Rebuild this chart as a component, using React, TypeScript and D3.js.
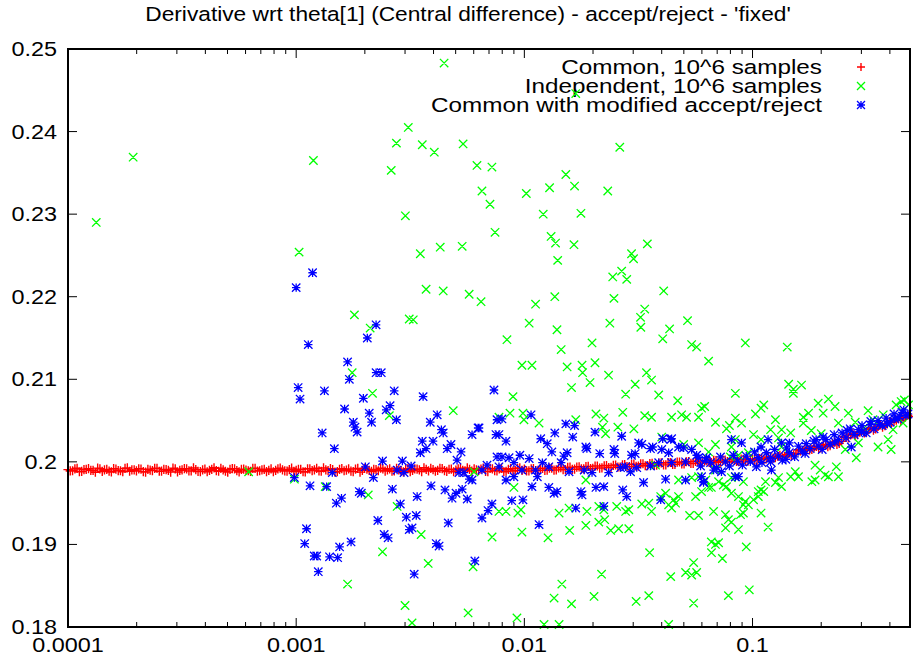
import React from "react";
import * as d3 from "d3";

const TITLE = "Derivative wrt theta[1] (Central difference) - accept/reject - 'fixed'";
const SERIES_NAMES = ["Common, 10^6 samples", "Independent, 10^6 samples", "Common with modified accept/reject"];
const SERIES_COLORS = ["#ff0000", "#00ff00", "#0000ff"];
const X_DOMAIN = [0.0001, 0.49];
const Y_DOMAIN = [0.18, 0.25];
const X_TICKS = [0.0001, 0.001, 0.01, 0.1];
const X_TICK_LABELS = ["0.0001", "0.001", "0.01", "0.1"];
const Y_TICKS = [0.18, 0.19, 0.2, 0.21, 0.22, 0.23, 0.24, 0.25];
const Y_TICK_LABELS = ["0.18", "0.19", "0.2", "0.21", "0.22", "0.23", "0.24", "0.25"];

// "Common" series, first half of samples
const redX = [
  1.000e-4, 1.047e-4, 1.096e-4, 1.148e-4, 1.202e-4, 1.259e-4, 1.318e-4, 1.380e-4, 1.445e-4, 1.514e-4,
  1.585e-4, 1.660e-4, 1.738e-4, 1.820e-4, 1.905e-4, 1.995e-4, 2.089e-4, 2.188e-4, 2.291e-4, 2.399e-4,
  2.512e-4, 2.630e-4, 2.754e-4, 2.884e-4, 3.020e-4, 3.162e-4, 3.311e-4, 3.467e-4, 3.631e-4, 3.802e-4,
  3.981e-4, 4.169e-4, 4.365e-4, 4.571e-4, 4.786e-4, 5.012e-4, 5.248e-4, 5.495e-4, 5.754e-4, 6.026e-4,
  6.310e-4, 6.607e-4, 6.918e-4, 7.244e-4, 7.586e-4, 7.943e-4, 8.318e-4, 8.710e-4, 9.120e-4, 9.550e-4,
  1.000e-3, 1.047e-3, 1.096e-3, 1.148e-3, 1.202e-3, 1.259e-3, 1.318e-3, 1.380e-3, 1.445e-3, 1.514e-3,
  1.585e-3, 1.660e-3, 1.738e-3, 1.820e-3, 1.905e-3, 1.995e-3, 2.089e-3, 2.188e-3, 2.291e-3, 2.399e-3,
  2.512e-3, 2.630e-3, 2.754e-3, 2.884e-3, 3.020e-3, 3.162e-3, 3.311e-3, 3.467e-3, 3.631e-3, 3.802e-3,
  3.981e-3, 4.169e-3, 4.365e-3, 4.571e-3, 4.786e-3, 5.012e-3, 5.248e-3, 5.495e-3, 5.754e-3, 6.026e-3,
  6.310e-3, 6.607e-3, 6.918e-3, 7.244e-3, 7.586e-3, 7.943e-3, 8.318e-3, 8.710e-3, 9.120e-3, 9.550e-3,
  1.000e-2, 1.047e-2, 1.096e-2, 1.148e-2, 1.202e-2, 1.259e-2, 1.318e-2, 1.380e-2, 1.445e-2, 1.514e-2,
  1.585e-2, 1.660e-2, 1.738e-2, 1.820e-2, 1.905e-2, 1.995e-2, 2.089e-2, 2.188e-2, 2.291e-2, 2.399e-2,
  2.512e-2, 2.630e-2, 2.754e-2, 2.884e-2, 3.020e-2, 3.162e-2, 3.311e-2, 3.467e-2, 3.631e-2, 3.802e-2,
  3.981e-2, 4.169e-2, 4.365e-2, 4.571e-2, 4.786e-2, 5.012e-2, 5.248e-2, 5.495e-2, 5.754e-2, 6.026e-2,
  6.310e-2, 6.607e-2, 6.918e-2, 7.244e-2, 7.586e-2, 7.943e-2, 8.318e-2, 8.710e-2, 9.120e-2, 9.550e-2,
  1.000e-1, 1.047e-1, 1.096e-1, 1.148e-1, 1.202e-1, 1.259e-1, 1.318e-1, 1.380e-1, 1.445e-1, 1.514e-1,
  1.585e-1, 1.660e-1, 1.738e-1, 1.820e-1, 1.905e-1, 1.995e-1, 2.089e-1, 2.188e-1, 2.291e-1, 2.399e-1,
  2.512e-1, 2.630e-1, 2.754e-1, 2.884e-1, 3.020e-1, 3.162e-1, 3.311e-1, 3.467e-1, 3.631e-1, 3.802e-1,
  3.981e-1, 4.169e-1, 4.365e-1, 4.571e-1, 4.786e-1,
];
const redY = [
  0.19906, 0.19892, 0.19922, 0.19884, 0.19910, 0.19898, 0.19874, 0.19916, 0.19902, 0.19888,
  0.19918, 0.19894, 0.19880, 0.19926, 0.19904, 0.19890, 0.19912, 0.19876, 0.19900, 0.19920,
  0.19886, 0.19908, 0.19896, 0.19924, 0.19878, 0.19902, 0.19914, 0.19890, 0.19906, 0.19882,
  0.19912, 0.19898, 0.19928, 0.19886, 0.19904, 0.19876, 0.19918, 0.19894, 0.19908, 0.19900,
  0.19884, 0.19922, 0.19892, 0.19910, 0.19898, 0.19880, 0.19916, 0.19904, 0.19888, 0.19924,
  0.19896, 0.19908, 0.19878, 0.19914, 0.19902, 0.19890, 0.19926, 0.19894, 0.19906, 0.19882,
  0.19918, 0.19900, 0.19888, 0.19912, 0.19876, 0.19922, 0.19898, 0.19908, 0.19892, 0.19916,
  0.19904, 0.19886, 0.19920, 0.19894, 0.19910, 0.19880, 0.19914, 0.19902, 0.19928, 0.19890,
  0.19906, 0.19896, 0.19918, 0.19884, 0.19912, 0.19900, 0.19922, 0.19892, 0.19908, 0.19916,
  0.19898, 0.19924, 0.19882, 0.19914, 0.19890, 0.19920, 0.19886, 0.19918, 0.19896, 0.19926,
  0.19912, 0.19890, 0.19918, 0.19896, 0.19922, 0.19899, 0.19925, 0.19903, 0.19929, 0.19906,
  0.19935, 0.19911, 0.19940, 0.19916, 0.19945, 0.19921, 0.19950, 0.19927, 0.19955, 0.19933,
  0.19962, 0.19938, 0.19967, 0.19944, 0.19972, 0.19949, 0.19977, 0.19955, 0.19983, 0.19961,
  0.19987, 0.19963, 0.19992, 0.19969, 0.19998, 0.19975, 0.20003, 0.19981, 0.20009, 0.19987,
  0.20012, 0.19990, 0.20016, 0.19995, 0.20021, 0.19999, 0.20025, 0.20004, 0.20030, 0.20009,
  0.20032, 0.20018, 0.20045, 0.20036, 0.20062, 0.20050, 0.20079, 0.20068, 0.20095, 0.20085,
  0.20148, 0.20132, 0.20165, 0.20150, 0.20186, 0.20170, 0.20210, 0.20195, 0.20240, 0.20225,
  0.20308, 0.20290, 0.20345, 0.20330, 0.20380, 0.20362, 0.20413, 0.20398, 0.20452, 0.20440,
  0.20488, 0.20490, 0.20522, 0.20520, 0.20565,
];
// "Common" series, interleaved second half of samples
const redXB = [
  1.023e-4, 1.072e-4, 1.122e-4, 1.175e-4, 1.230e-4, 1.288e-4, 1.349e-4, 1.413e-4, 1.479e-4, 1.549e-4,
  1.622e-4, 1.698e-4, 1.778e-4, 1.862e-4, 1.950e-4, 2.042e-4, 2.138e-4, 2.239e-4, 2.344e-4, 2.455e-4,
  2.570e-4, 2.692e-4, 2.818e-4, 2.951e-4, 3.090e-4, 3.236e-4, 3.388e-4, 3.548e-4, 3.715e-4, 3.890e-4,
  4.074e-4, 4.266e-4, 4.467e-4, 4.677e-4, 4.898e-4, 5.129e-4, 5.370e-4, 5.623e-4, 5.888e-4, 6.166e-4,
  6.457e-4, 6.761e-4, 7.079e-4, 7.413e-4, 7.762e-4, 8.128e-4, 8.511e-4, 8.913e-4, 9.333e-4, 9.772e-4,
  1.023e-3, 1.072e-3, 1.122e-3, 1.175e-3, 1.230e-3, 1.288e-3, 1.349e-3, 1.413e-3, 1.479e-3, 1.549e-3,
  1.622e-3, 1.698e-3, 1.778e-3, 1.862e-3, 1.950e-3, 2.042e-3, 2.138e-3, 2.239e-3, 2.344e-3, 2.455e-3,
  2.570e-3, 2.692e-3, 2.818e-3, 2.951e-3, 3.090e-3, 3.236e-3, 3.388e-3, 3.548e-3, 3.715e-3, 3.890e-3,
  4.074e-3, 4.266e-3, 4.467e-3, 4.677e-3, 4.898e-3, 5.129e-3, 5.370e-3, 5.623e-3, 5.888e-3, 6.166e-3,
  6.457e-3, 6.761e-3, 7.079e-3, 7.413e-3, 7.762e-3, 8.128e-3, 8.511e-3, 8.913e-3, 9.333e-3, 9.772e-3,
  1.023e-2, 1.072e-2, 1.122e-2, 1.175e-2, 1.230e-2, 1.288e-2, 1.349e-2, 1.413e-2, 1.479e-2, 1.549e-2,
  1.622e-2, 1.698e-2, 1.778e-2, 1.862e-2, 1.950e-2, 2.042e-2, 2.138e-2, 2.239e-2, 2.344e-2, 2.455e-2,
  2.570e-2, 2.692e-2, 2.818e-2, 2.951e-2, 3.090e-2, 3.236e-2, 3.388e-2, 3.548e-2, 3.715e-2, 3.890e-2,
  4.074e-2, 4.266e-2, 4.467e-2, 4.677e-2, 4.898e-2, 5.129e-2, 5.370e-2, 5.623e-2, 5.888e-2, 6.166e-2,
  6.457e-2, 6.761e-2, 7.079e-2, 7.413e-2, 7.762e-2, 8.128e-2, 8.511e-2, 8.913e-2, 9.333e-2, 9.772e-2,
  1.023e-1, 1.072e-1, 1.122e-1, 1.175e-1, 1.230e-1, 1.288e-1, 1.349e-1, 1.413e-1, 1.479e-1, 1.549e-1,
  1.622e-1, 1.698e-1, 1.778e-1, 1.862e-1, 1.950e-1, 2.042e-1, 2.138e-1, 2.239e-1, 2.344e-1, 2.455e-1,
  2.570e-1, 2.692e-1, 2.818e-1, 2.951e-1, 3.090e-1, 3.236e-1, 3.388e-1, 3.548e-1, 3.715e-1, 3.890e-1,
  4.074e-1, 4.266e-1, 4.467e-1, 4.677e-1, 4.898e-1,
];
const redYB = [
  0.19890, 0.19914, 0.19880, 0.19906, 0.19918, 0.19896, 0.19924, 0.19884, 0.19908, 0.19878,
  0.19912, 0.19892, 0.19920, 0.19886, 0.19902, 0.19916, 0.19882, 0.19910, 0.19894, 0.19922,
  0.19888, 0.19906, 0.19876, 0.19914, 0.19898, 0.19918, 0.19890, 0.19926, 0.19884, 0.19904,
  0.19880, 0.19910, 0.19894, 0.19922, 0.19886, 0.19908, 0.19916, 0.19878, 0.19912, 0.19892,
  0.19920, 0.19888, 0.19904, 0.19882, 0.19914, 0.19896, 0.19924, 0.19890, 0.19906, 0.19884,
  0.19910, 0.19880, 0.19916, 0.19894, 0.19922, 0.19886, 0.19902, 0.19918, 0.19876, 0.19908,
  0.19892, 0.19914, 0.19882, 0.19920, 0.19898, 0.19912, 0.19884, 0.19906, 0.19924, 0.19888,
  0.19916, 0.19890, 0.19904, 0.19878, 0.19918, 0.19896, 0.19912, 0.19882, 0.19908, 0.19920,
  0.19886, 0.19922, 0.19894, 0.19910, 0.19880, 0.19914, 0.19898, 0.19926, 0.19888, 0.19904,
  0.19912, 0.19884, 0.19920, 0.19892, 0.19916, 0.19880, 0.19908, 0.19888, 0.19922, 0.19896,
  0.19890, 0.19915, 0.19894, 0.19920, 0.19897, 0.19924, 0.19901, 0.19928, 0.19905, 0.19932,
  0.19909, 0.19937, 0.19914, 0.19942, 0.19919, 0.19948, 0.19925, 0.19953, 0.19930, 0.19958,
  0.19937, 0.19964, 0.19942, 0.19970, 0.19947, 0.19975, 0.19953, 0.19980, 0.19958, 0.19986,
  0.19964, 0.19990, 0.19970, 0.19996, 0.19976, 0.20001, 0.19982, 0.20007, 0.19988, 0.20012,
  0.19994, 0.20018, 0.19998, 0.20023, 0.20002, 0.20027, 0.20006, 0.20032, 0.20012, 0.20036,
  0.20016, 0.20040, 0.20030, 0.20055, 0.20044, 0.20070, 0.20060, 0.20088, 0.20076, 0.20104,
  0.20134, 0.20160, 0.20146, 0.20178, 0.20162, 0.20200, 0.20184, 0.20224, 0.20210, 0.20248,
  0.20296, 0.20326, 0.20318, 0.20360, 0.20350, 0.20394, 0.20384, 0.20428, 0.20420, 0.20460,
  0.20478, 0.20506, 0.20502, 0.20540, 0.20548,
];

const greenPoints: [number, number][] = [
  [1.33e-4, 0.2290], [1.93e-4, 0.2369], [6.19e-4, 0.1988], [9.82e-4, 0.1979], [1.03e-3, 0.2254],
  [1.19e-3, 0.2365], [1.34e-3, 0.1970], [1.68e-3, 0.1852], [1.76e-3, 0.2108], [1.80e-3, 0.2178],
  [2.07e-3, 0.1960], [2.11e-3, 0.2162], [2.16e-3, 0.2083], [2.39e-3, 0.1891], [2.56e-3, 0.2056],
  [2.61e-3, 0.2353], [2.75e-3, 0.2386], [2.77e-3, 0.1946], [3.01e-3, 0.2298], [3.00e-3, 0.1826],
  [3.10e-3, 0.2405], [3.13e-3, 0.2173], [3.26e-3, 0.2172], [3.22e-3, 0.1805], [3.50e-3, 0.2252],
  [3.53e-3, 0.1912], [3.57e-3, 0.2384], [3.71e-3, 0.2209], [3.79e-3, 0.1877], [4.03e-3, 0.2375],
  [4.28e-3, 0.2260], [4.41e-3, 0.2207], [4.45e-3, 0.2483], [4.88e-3, 0.2062], [5.34e-3, 0.2261],
  [5.39e-3, 0.2385], [5.67e-3, 0.1817], [5.73e-3, 0.2203], [5.96e-3, 0.1873], [6.02e-3, 0.1988],
  [6.20e-3, 0.2359], [6.46e-3, 0.2194], [6.52e-3, 0.2328], [7.07e-3, 0.2312], [7.21e-3, 0.2357],
  [7.22e-3, 0.1909], [7.44e-3, 0.2278], [8.39e-3, 0.2148], [1.02e-2, 0.2325], [1.29e-2, 0.2332],
  [1.52e-2, 0.2348], [1.66e-2, 0.2334], [2.32e-2, 0.2328], [2.62e-2, 0.2381], [1.21e-2, 0.2300],
  [1.77e-2, 0.2301], [1.31e-2, 0.2273], [1.37e-2, 0.2265], [1.65e-2, 0.2263], [3.46e-2, 0.2264],
  [2.95e-2, 0.2252], [3.01e-2, 0.2246], [1.40e-2, 0.2244], [2.44e-2, 0.2224], [2.67e-2, 0.2231],
  [2.81e-2, 0.2221], [4.08e-2, 0.2207], [1.12e-2, 0.2191], [1.36e-2, 0.2200], [2.47e-2, 0.2198],
  [1.05e-2, 0.2168], [1.39e-2, 0.2160], [2.37e-2, 0.2168], [3.23e-2, 0.2175], [3.24e-2, 0.2163],
  [3.37e-2, 0.2185], [4.33e-2, 0.2161], [5.19e-2, 0.2171], [4.04e-2, 0.2149], [1.98e-2, 0.2144],
  [5.41e-2, 0.2142], [5.69e-2, 0.2139], [9.30e-2, 0.2144], [0.142, 0.2139], [1.45e-2, 0.2136],
  [1.68e-2, 0.2446], [9.76e-3, 0.2117], [1.08e-2, 0.2117], [1.54e-2, 0.2115], [1.79e-2, 0.2117],
  [1.80e-2, 0.2108], [2.04e-2, 0.2120], [2.34e-2, 0.2105], [1.94e-2, 0.2096], [3.43e-2, 0.2108],
  [3.61e-2, 0.2099], [6.42e-2, 0.2122], [1.61e-2, 0.2090], [3.06e-2, 0.2094], [2.78e-2, 0.2082],
  [3.88e-2, 0.2081], [8.92e-3, 0.2079], [8.41e-2, 0.2083], [0.144, 0.2094], [0.151, 0.2088],
  [0.164, 0.2093], [8.65e-3, 0.2059], [9.86e-3, 0.2059], [9.96e-3, 0.2051], [1.16e-2, 0.2047],
  [2.06e-2, 0.2058], [2.23e-2, 0.2053], [2.70e-2, 0.2060], [3.02e-2, 0.2040], [3.37e-2, 0.2056],
  [3.61e-2, 0.2054], [2.57e-2, 0.2042], [2.27e-2, 0.2034], [2.20e-2, 0.2042], [1.68e-2, 0.2051],
  [4.42e-2, 0.2054], [4.89e-2, 0.2057], [5.14e-2, 0.2054], [4.70e-2, 0.2074], [5.80e-2, 0.2054],
  [5.98e-2, 0.2065], [6.17e-2, 0.2067], [6.88e-2, 0.2048], [7.69e-2, 0.2040], [7.92e-2, 0.2044],
  [8.41e-2, 0.2053], [8.95e-2, 0.2047], [0.103, 0.2058], [0.109, 0.2065], [0.112, 0.2069],
  [0.126, 0.2051], [0.120, 0.2039], [0.134, 0.2039], [0.147, 0.2035], [0.167, 0.2054],
  [0.176, 0.2059], [0.194, 0.2071], [0.215, 0.2076], [0.230, 0.2067], [0.181, 0.2038],
  [0.200, 0.2034], [0.263, 0.2059], [0.282, 0.2048], [0.321, 0.2062], [0.426, 0.2069],
  [0.448, 0.2073], [0.457, 0.2047], [0.355, 0.2018], [0.393, 0.2027], [0.405, 0.2015],
  [0.291, 0.2023], [0.255, 0.2015], [0.285, 0.2005], [0.233, 0.1994], [0.198, 0.1990],
  [0.188, 0.1996], [0.238, 0.1982], [0.208, 0.1984], [0.154, 0.1988], [0.159, 0.1982],
  [0.182, 0.1976], [0.147, 0.1982], [0.126, 0.1975], [0.134, 0.1970], [0.114, 0.1976],
  [0.106, 0.1964], [0.112, 0.1964], [0.101, 0.1954], [9.59e-2, 0.1948], [8.68e-2, 0.1958],
  [9.30e-2, 0.1952], [8.41e-2, 0.1982], [7.45e-2, 0.1972], [7.69e-2, 0.1970], [6.60e-2, 0.1969],
  [5.98e-2, 0.1964], [6.42e-2, 0.1969], [5.63e-2, 0.1958], [4.74e-2, 0.1978], [5.41e-2, 0.1981],
  [4.16e-2, 0.1962], [3.96e-2, 0.1958], [4.29e-2, 0.1948], [4.74e-2, 0.1958], [4.60e-2, 0.1950],
  [4.42e-2, 0.1944], [4.51e-2, 0.1954], [3.51e-2, 0.1950], [3.27e-2, 0.1949], [3.61e-2, 0.1940],
  [2.54e-2, 0.1946], [2.78e-2, 0.1940], [2.87e-2, 0.1942], [2.12e-2, 0.1946], [2.23e-2, 0.1942],
  [1.88e-2, 0.1940], [1.57e-2, 0.1944], [1.42e-2, 0.1938], [9.37e-3, 0.1938], [9.66e-3, 0.1942],
  [8.31e-3, 0.1940], [5.30e-2, 0.1935], [5.80e-2, 0.1935], [6.75e-2, 0.1940], [7.61e-2, 0.1936],
  [7.84e-2, 0.1930], [8.08e-2, 0.1927], [7.62e-2, 0.1920], [8.68e-2, 0.1918], [8.86e-2, 0.1936],
  [9.12e-2, 0.1938], [0.109, 0.1938], [0.117, 0.1921], [2.12e-2, 0.1927], [2.25e-2, 0.1930],
  [2.39e-2, 0.1917], [2.59e-2, 0.1919], [2.87e-2, 0.1919], [1.86e-2, 0.1923], [1.58e-2, 0.1917],
  [9.76e-3, 0.1915], [1.27e-2, 0.1908], [3.54e-2, 0.1890], [4.38e-2, 0.1861], [5.09e-2, 0.1866],
  [5.41e-2, 0.1863], [5.69e-2, 0.1866], [5.52e-2, 0.1878], [6.60e-2, 0.1903], [6.88e-2, 0.1900],
  [6.61e-2, 0.1890], [7.10e-2, 0.1902], [7.38e-2, 0.1883], [9.39e-2, 0.1897], [2.18e-2, 0.1864],
  [1.46e-2, 0.1852], [2.02e-2, 0.1837], [1.35e-2, 0.1835], [1.61e-2, 0.1828], [3.09e-2, 0.1831],
  [3.51e-2, 0.1838], [5.52e-2, 0.1829], [7.84e-2, 0.1838], [9.68e-2, 0.1845], [9.28e-3, 0.1811],
  [1.22e-2, 0.1803], [1.42e-2, 0.1803], [4.29e-2, 0.1803], [0.151, 0.2083], [0.204, 0.2059],
  [0.167, 0.2047], [0.238, 0.2047], [5.80e-2, 0.2023], [6.88e-2, 0.2021], [6.42e-2, 0.2012],
  [8.08e-2, 0.2018], [6.89e-2, 0.1990], [8.41e-2, 0.2027], [0.101, 0.2033], [0.109, 0.2027],
  [0.130, 0.2029], [0.134, 0.2018], [9.59e-2, 0.2011], [8.68e-2, 0.2008], [8.00e-2, 0.2006],
  [5.80e-2, 0.1982], [6.24e-2, 0.1978], [7.10e-2, 0.1976], [8.08e-2, 0.1981], [9.12e-2, 0.1976],
  [0.130, 0.1981], [0.188, 0.1978], [0.215, 0.1982], [9.12e-2, 0.1948], [0.106, 0.1958],
  [8.08e-2, 0.1962], [0.109, 0.1966], [7.74e-3, 0.2054], [4.00e-2, 0.2030], [4.99e-2, 0.2021],
  [3.76e-2, 0.1996], [1.86e-2, 0.1978], [9.00e-3, 0.1969], [7.74e-3, 0.1940], [0.463, 0.2075],
  [0.483, 0.2069], [0.374, 0.2057], [0.337, 0.2051], [0.308, 0.2041], [0.413, 0.2039],
];

const bluePoints: [number, number][] = [
  [1.18e-3, 0.2229], [1.00e-3, 0.2211], [1.13e-3, 0.2142], [2.24e-3, 0.2166], [2.05e-3, 0.2150],
  [1.68e-3, 0.2121], [1.71e-3, 0.2100], [2.24e-3, 0.2108], [2.36e-3, 0.2108], [1.02e-3, 0.2090],
  [1.04e-3, 0.2076], [1.33e-3, 0.2086], [1.97e-3, 0.2077], [2.69e-3, 0.2086], [3.60e-3, 0.2079],
  [7.36e-3, 0.2087], [1.63e-3, 0.2064], [2.09e-3, 0.2059], [2.58e-3, 0.2068], [2.48e-3, 0.2063],
  [1.78e-3, 0.2048], [2.14e-3, 0.2048], [2.75e-3, 0.2051], [1.81e-3, 0.2042], [1.85e-3, 0.2036],
  [4.15e-3, 0.2057], [3.87e-3, 0.2048], [1.30e-3, 0.2035], [1.47e-3, 0.2016], [4.33e-3, 0.2039],
  [4.41e-3, 0.2035], [3.57e-3, 0.2025], [3.98e-3, 0.2025], [4.77e-3, 0.2021], [4.59e-3, 0.2016],
  [5.28e-3, 0.2012], [5.07e-3, 0.2002], [5.90e-3, 0.2033], [6.27e-3, 0.2041], [7.51e-3, 0.2033],
  [7.59e-3, 0.2051], [3.50e-3, 0.2011], [3.71e-3, 0.2016], [2.39e-3, 0.2001], [2.92e-3, 0.2001],
  [3.19e-3, 0.1995], [2.01e-3, 0.1994], [1.44e-3, 0.1987], [2.77e-3, 0.1990], [2.97e-3, 0.1987],
  [2.18e-3, 0.1981], [9.82e-4, 0.1981], [5.17e-3, 0.1987], [5.44e-3, 0.1987], [5.73e-3, 0.1979],
  [6.52e-3, 0.1990], [6.86e-3, 0.1996], [7.59e-3, 0.2006], [1.15e-3, 0.1971], [1.36e-3, 0.1970],
  [1.89e-3, 0.1964], [1.93e-3, 0.1962], [2.64e-3, 0.1967], [1.58e-3, 0.1956], [1.50e-3, 0.1950],
  [3.39e-3, 0.1958], [3.90e-3, 0.1971], [4.49e-3, 0.1966], [4.82e-3, 0.1956], [5.02e-3, 0.1962],
  [5.34e-3, 0.1967], [5.62e-3, 0.1955], [5.90e-3, 0.1978], [7.21e-3, 0.1949], [6.93e-3, 0.1941],
  [6.52e-3, 0.1932], [2.86e-3, 0.1949], [3.04e-3, 0.1933], [3.36e-3, 0.1935], [2.28e-3, 0.1929],
  [3.13e-3, 0.1918], [3.22e-3, 0.1920], [1.11e-3, 0.1919], [2.43e-3, 0.1912], [2.53e-3, 0.1908],
  [4.64e-3, 0.1926], [1.09e-3, 0.1901], [1.55e-3, 0.1897], [1.74e-3, 0.1903], [1.20e-3, 0.1886],
  [1.23e-3, 0.1886], [1.40e-3, 0.1885], [1.52e-3, 0.1884], [1.25e-3, 0.1867], [3.29e-3, 0.1864],
  [4.11e-3, 0.1901], [4.23e-3, 0.1898], [6.07e-3, 0.1880],
  [7.98e-3, 0.2052], [1.07e-2, 0.2057], [8.31e-3, 0.2025], [7.74e-3, 0.2033], [1.52e-2, 0.2046],
  [1.66e-2, 0.2044], [1.36e-2, 0.2035], [1.63e-2, 0.2030], [1.18e-2, 0.2028], [1.26e-2, 0.2022],
  [1.32e-2, 0.2012], [1.54e-2, 0.2011], [1.49e-2, 0.2007], [1.86e-2, 0.2018], [1.88e-2, 0.2016],
  [2.04e-2, 0.2036], [2.14e-2, 0.2010], [2.47e-2, 0.2015], [2.49e-2, 0.2010], [2.67e-2, 0.2031],
  [2.95e-2, 0.2008], [3.06e-2, 0.2010], [3.17e-2, 0.2023], [3.57e-2, 0.2016], [3.65e-2, 0.2018],
  [4.04e-2, 0.2028], [4.42e-2, 0.2028], [4.00e-2, 0.2015], [4.29e-2, 0.2011], [4.74e-2, 0.2018],
  [7.98e-3, 0.2006], [8.57e-3, 0.2005], [9.56e-3, 0.2008], [1.05e-2, 0.2004], [9.00e-3, 0.1999],
  [1.20e-2, 0.1999], [7.74e-3, 0.1994], [9.76e-3, 0.1990], [1.12e-2, 0.1990], [1.28e-2, 0.1994],
  [1.45e-2, 0.1999], [8.31e-3, 0.1978], [9.00e-3, 0.1982], [1.14e-2, 0.1982], [1.08e-2, 0.1970],
  [8.81e-3, 0.1953], [9.86e-3, 0.1954], [1.16e-2, 0.1924], [1.28e-2, 0.1969], [1.39e-2, 0.1964],
  [1.35e-2, 0.1962], [1.77e-2, 0.1964], [1.79e-2, 0.1960], [1.68e-2, 0.1944], [2.06e-2, 0.1969],
  [2.23e-2, 0.1970], [2.23e-2, 0.1946], [1.57e-2, 0.1988], [1.83e-2, 0.1990], [1.98e-2, 0.1987],
  [2.34e-2, 0.1987], [2.64e-2, 0.1993], [2.78e-2, 0.1994], [2.92e-2, 0.1988], [2.70e-2, 0.1966],
  [2.81e-2, 0.1958], [3.33e-2, 0.1975], [3.96e-2, 0.1954], [4.16e-2, 0.1979], [3.11e-2, 0.1993],
  [3.57e-2, 0.1995], [3.88e-2, 0.1999], [4.42e-2, 0.1999], [5.09e-2, 0.2000], [5.80e-2, 0.2005],
  [6.24e-2, 0.2002], [5.09e-2, 0.1978], [5.98e-2, 0.1982], [6.10e-2, 0.1975], [5.41e-2, 0.2015],
  [5.69e-2, 0.2008], [6.33e-3, 0.2041], [3.27e-2, 0.2021], [4.38e-2, 0.2027], [4.99e-2, 0.2017],
  [8.08e-2, 0.2027], [8.95e-2, 0.2023], [0.109, 0.2018], [0.117, 0.2027], [6.10e-2, 0.1976],
  [8.68e-2, 0.1982], [6.75e-2, 0.1990], [7.31e-2, 0.1988], [0.134, 0.2023], [0.145, 0.2023],
  [0.190, 0.2027], [0.204, 0.2030], [0.271, 0.2018], [0.121, 0.1990], [0.104, 0.1994],
  [8.41e-2, 0.1982],
  [5.92e-2, 0.1995], [6.29e-2, 0.2005], [6.55e-2, 0.1999], [6.96e-2, 0.1993], [7.24e-2, 0.2006],
  [7.61e-2, 0.2000], [7.92e-2, 0.1995], [8.25e-2, 0.2008], [8.60e-2, 0.2001], [9.03e-2, 0.1996],
  [9.39e-2, 0.2007], [9.78e-2, 0.2000], [0.102, 0.2012], [0.106, 0.2005], [0.110, 0.1999],
  [0.115, 0.2011], [0.120, 0.2005], [0.125, 0.2015], [0.130, 0.2007], [0.135, 0.2002],
  [0.141, 0.2017], [0.145, 0.2011], [0.153, 0.2006], [0.159, 0.2019], [0.165, 0.2013],
  [0.172, 0.2022], [0.179, 0.2016], [0.186, 0.2025], [0.194, 0.2019], [0.202, 0.2015],
  [0.210, 0.2027], [0.219, 0.2021], [0.228, 0.2033], [0.238, 0.2027], [0.247, 0.2035],
  [0.257, 0.2029], [0.268, 0.2040], [0.279, 0.2033], [0.291, 0.2039], [0.302, 0.2044],
  [0.315, 0.2035], [0.328, 0.2045], [0.341, 0.2040], [0.355, 0.2050], [0.370, 0.2044],
  [0.385, 0.2053], [0.401, 0.2048], [0.417, 0.2058], [0.434, 0.2052], [0.452, 0.2060],
  [0.471, 0.2056], [0.480, 0.2058], [0.12, 0.2000], [0.14, 0.2003], [0.17, 0.2010],
  [0.23, 0.2024], [0.30, 0.2036], [0.36, 0.2045], [0.44, 0.2055], [0.26, 0.2038],
  [0.33, 0.2049], [0.39, 0.2046], [0.46, 0.2063], [0.42, 0.2052],
];

const FONT = "'Liberation Sans', Arial, Helvetica, sans-serif";
const FONT_SIZE = 19.5;
const TITLE_SX = 1.165;
const TICK_SX = 1.2;
const LEGEND_SX = 1.245;

function Txt({ x, y, anchor = "start", sx, children }: { x: number; y: number; anchor?: string; sx: number; children: any }) {
  return (
    <text
      transform={`translate(${x},${y}) scale(${sx},1)`}
      textAnchor={anchor as any}
      fontFamily={FONT}
      fontSize={FONT_SIZE}
      fill="#000"
    >
      {children}
    </text>
  );
}

function plusPath(px: number, py: number, s = 4) {
  return `M${px - s},${py}H${px + s}M${px},${py - s}V${py + s}`;
}
function crossPath(px: number, py: number, s = 4) {
  return `M${px - s},${py - s}L${px + s},${py + s}M${px - s},${py + s}L${px + s},${py - s}`;
}
function starPath(px: number, py: number, s = 4) {
  return plusPath(px, py, s) + crossPath(px, py, s);
}

export default function App() {
  const W = 913;
  const H = 657;
  const left = 68, right = 910, top = 49, bottom = 627;
  const x = d3.scaleLog().domain(X_DOMAIN).range([left, right]);
  const y = d3.scaleLinear().domain(Y_DOMAIN).range([bottom, top]);

  const minorTicks = x.ticks().filter((t) => !X_TICKS.some((m) => Math.abs(m - t) / m < 1e-6));

  const RED_S = 4.6;
  const redPath =
    redX.map((v, i) => plusPath(x(v), y(redY[i]), RED_S)).join("") +
    redXB.map((v, i) => plusPath(x(v), y(redYB[i]), RED_S)).join("");
  const greenPath = greenPoints.map(([a, b]) => crossPath(x(a), y(b), 4.2)).join("");
  const bluePath = bluePoints.map(([a, b]) => starPath(x(a), y(b), 4.2)).join("");

  const legendMarkers = [plusPath, crossPath, starPath];
  const legendRows = [67, 86, 105];
  const markerWidths = [1.4, 1.3, 1.3];

  return (
    <svg
      width={W}
      height={H}
      viewBox={`0 0 ${W} ${H}`}
      style={{ position: "fixed", left: 0, top: 0, background: "#fff" }}
    >
      <rect x={0} y={0} width={W} height={H} fill="#fff" />
      <Txt x={468} y={21} anchor="middle" sx={TITLE_SX}>{TITLE}</Txt>

      <g stroke="#000" strokeWidth={1}>
        {Y_TICKS.map((t) => (
          <g key={"y" + t}>
            <line x1={left} x2={left + 9} y1={y(t)} y2={y(t)} />
            <line x1={right} x2={right - 9} y1={y(t)} y2={y(t)} />
          </g>
        ))}
        {X_TICKS.map((t) => (
          <g key={"x" + t}>
            <line x1={x(t)} x2={x(t)} y1={bottom} y2={bottom - 9} />
            <line x1={x(t)} x2={x(t)} y1={top} y2={top + 9} />
          </g>
        ))}
        {minorTicks.map((t) => (
          <g key={"m" + t}>
            <line x1={x(t)} x2={x(t)} y1={bottom} y2={bottom - 5} />
            <line x1={x(t)} x2={x(t)} y1={top} y2={top + 5} />
          </g>
        ))}
      </g>

      {Y_TICKS.map((t, i) => (
        <Txt key={"yl" + t} x={57} y={y(t) + 7} anchor="end" sx={TICK_SX}>{Y_TICK_LABELS[i]}</Txt>
      ))}
      {X_TICKS.map((t, i) => (
        <Txt key={"xl" + t} x={x(t)} y={652} anchor="middle" sx={TICK_SX}>{X_TICK_LABELS[i]}</Txt>
      ))}

      {SERIES_NAMES.map((n, i) => (
        <g key={n}>
          <Txt x={822} y={legendRows[i] + 7} anchor="end" sx={LEGEND_SX}>{n}</Txt>
          <path d={legendMarkers[i](861, legendRows[i], 4)} stroke={SERIES_COLORS[i]} strokeWidth={markerWidths[i]} fill="none" />
        </g>
      ))}

      <path d={redPath} stroke={SERIES_COLORS[0]} strokeWidth={markerWidths[0]} fill="none" />
      <path d={greenPath} stroke={SERIES_COLORS[1]} strokeWidth={markerWidths[1]} fill="none" />
      <path d={bluePath} stroke={SERIES_COLORS[2]} strokeWidth={markerWidths[2]} fill="none" />

      <rect x={left} y={top} width={right - left} height={bottom - top} fill="none" stroke="#000" strokeWidth={2} />
    </svg>
  );
}
